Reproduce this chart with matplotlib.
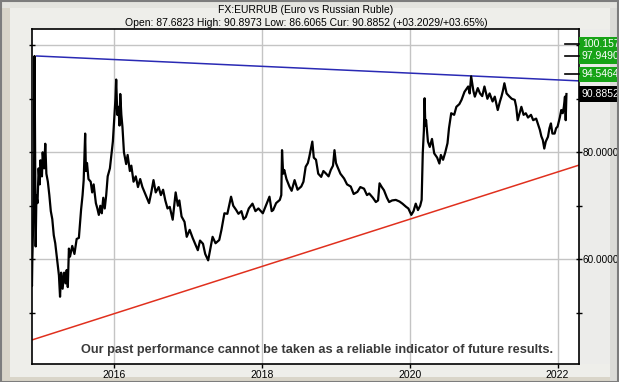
import numpy as np
import matplotlib
matplotlib.use('Agg')
import matplotlib.pyplot as plt
from matplotlib.patches import Rectangle

# EUR/RUB closes (decimal year, price)
dates = [2014.880, 2014.885, 2014.890, 2014.895, 2014.900, 2014.905, 2014.910, 2014.915, 2014.920, 2014.925,
         2014.930, 2014.935, 2014.945, 2014.960, 2014.975, 2014.990, 2015.000, 2015.020, 2015.030, 2015.050,
         2015.065, 2015.080, 2015.100, 2015.120, 2015.140, 2015.160, 2015.180, 2015.200, 2015.230, 2015.250,
         2015.265, 2015.280, 2015.300, 2015.320, 2015.340, 2015.355, 2015.370, 2015.385, 2015.400, 2015.430,
         2015.460, 2015.490, 2015.520, 2015.550, 2015.570, 2015.585, 2015.605, 2015.615, 2015.630, 2015.650,
         2015.680, 2015.700, 2015.720, 2015.750, 2015.770, 2015.790, 2015.810, 2015.830, 2015.850, 2015.870,
         2015.890, 2015.910, 2015.940, 2015.960, 2015.980, 2016.000, 2016.015, 2016.025, 2016.040, 2016.055,
         2016.070, 2016.080, 2016.095, 2016.110, 2016.130, 2016.160, 2016.180, 2016.210, 2016.230, 2016.260,
         2016.290, 2016.320, 2016.350, 2016.380, 2016.410, 2016.440, 2016.470, 2016.500, 2016.530, 2016.560,
         2016.600, 2016.630, 2016.660, 2016.690, 2016.720, 2016.750, 2016.790, 2016.830, 2016.860, 2016.880,
         2016.910, 2016.950, 2016.980, 2017.020, 2017.060, 2017.090, 2017.130, 2017.160, 2017.200, 2017.230,
         2017.270, 2017.300, 2017.330, 2017.370, 2017.420, 2017.450, 2017.490, 2017.530, 2017.580, 2017.610,
         2017.650, 2017.680, 2017.720, 2017.750, 2017.780, 2017.820, 2017.870, 2017.910, 2017.950, 2018.010,
         2018.050, 2018.100, 2018.130, 2018.150, 2018.190, 2018.240, 2018.260, 2018.270, 2018.285, 2018.300,
         2018.330, 2018.370, 2018.400, 2018.440, 2018.480, 2018.530, 2018.560, 2018.590, 2018.620, 2018.640,
         2018.680, 2018.700, 2018.730, 2018.760, 2018.800, 2018.830, 2018.860, 2018.900, 2018.930, 2018.960,
         2018.980, 2019.000, 2019.020, 2019.060, 2019.110, 2019.150, 2019.200, 2019.240, 2019.290, 2019.330,
         2019.380, 2019.420, 2019.450, 2019.500, 2019.540, 2019.570, 2019.590, 2019.620, 2019.650, 2019.690,
         2019.720, 2019.760, 2019.810, 2019.860, 2019.900, 2019.950, 2019.980, 2020.020, 2020.050, 2020.080,
         2020.110, 2020.140, 2020.160, 2020.175, 2020.190, 2020.200, 2020.210, 2020.220, 2020.245, 2020.270,
         2020.300, 2020.330, 2020.370, 2020.400, 2020.420, 2020.450, 2020.480, 2020.510, 2020.530, 2020.560,
         2020.600, 2020.630, 2020.670, 2020.700, 2020.740, 2020.790, 2020.810, 2020.830, 2020.860, 2020.880,
         2020.920, 2020.950, 2020.980, 2021.010, 2021.050, 2021.080, 2021.120, 2021.150, 2021.190, 2021.220,
         2021.240, 2021.260, 2021.280, 2021.310, 2021.350, 2021.380, 2021.420, 2021.440, 2021.460, 2021.490,
         2021.510, 2021.540, 2021.570, 2021.600, 2021.640, 2021.670, 2021.710, 2021.740, 2021.760, 2021.780,
         2021.800, 2021.820, 2021.840, 2021.870, 2021.890, 2021.910, 2021.930, 2021.960, 2021.980, 2022.000,
         2022.030, 2022.050, 2022.070, 2022.085, 2022.100, 2022.110, 2022.120]
prices = [57.0, 55.0, 60.0, 63.0, 66.0, 68.5, 72.0, 80.0, 98.0, 85.0,
          70.0, 62.4, 72.0, 70.5, 77.0, 74.0, 78.5, 75.5, 80.0, 77.0,
          81.6, 76.0, 74.5, 72.0, 69.0, 67.5, 64.5, 63.0, 59.5, 57.0,
          53.0, 57.5, 54.5, 57.5, 55.5, 58.0, 54.8, 62.0, 60.5, 62.5,
          61.0, 63.8, 64.0, 69.3, 72.0, 74.8, 83.5, 76.5, 78.0, 75.0,
          74.5, 72.5, 74.0, 70.5, 69.5, 68.3, 70.0, 68.6, 71.5, 69.5,
          72.0, 75.5, 77.0, 79.5, 82.0, 86.5, 90.0, 93.6, 87.0, 88.5,
          85.0, 90.9, 87.0, 84.7, 80.0, 77.8, 79.5, 76.5, 77.5, 74.5,
          75.5, 73.5, 75.0, 73.5, 72.5, 71.5, 70.5, 72.5, 74.8, 72.5,
          73.5, 72.0, 73.0, 71.0, 69.5, 69.8, 67.4, 72.5, 70.0, 71.0,
          68.0, 67.0, 64.2, 65.5, 64.0, 63.0, 61.7, 63.5, 62.9, 61.0,
          59.8, 62.0, 64.2, 63.0, 63.6, 65.5, 68.6, 68.5, 71.7, 70.0,
          69.2, 68.5, 69.0, 67.5, 67.9, 69.5, 70.4, 69.0, 69.5, 68.6,
          70.0, 71.7, 69.0, 69.2, 70.5, 71.1, 72.0, 80.4, 76.0, 76.7,
          75.0, 73.6, 72.8, 74.8, 73.0, 73.6, 74.5, 77.3, 78.0, 79.2,
          82.0, 79.0, 78.6, 76.0, 75.4, 76.5, 76.1, 75.5, 76.7, 77.5,
          80.4, 78.0, 77.3, 76.0, 75.1, 74.0, 73.6, 72.2, 72.6, 73.5,
          73.2, 72.0, 72.3, 71.5, 70.7, 71.0, 74.2, 73.5, 72.9, 71.5,
          70.7, 71.0, 71.1, 70.8, 70.4, 69.8, 69.5, 68.3, 69.0, 70.4,
          69.2, 70.0, 71.1, 79.8, 84.0, 90.1, 85.0, 86.0, 82.0, 81.0,
          82.5, 79.8, 79.0, 77.9, 79.5, 78.6, 80.0, 81.7, 84.5, 87.3,
          87.0, 88.5, 89.0, 89.8, 91.3, 92.3, 91.0, 94.2, 91.5, 90.4,
          92.0, 91.0, 90.5, 92.3, 90.0, 91.0, 89.5, 90.4, 87.9, 89.5,
          90.4, 91.5, 92.9, 91.0, 90.4, 90.0, 89.8, 88.5, 86.0, 87.5,
          88.5, 87.0, 87.3, 86.5, 87.0, 86.0, 86.3, 85.0, 84.2, 83.0,
          82.3, 80.7, 82.0, 82.9, 84.5, 85.4, 83.5, 83.5, 84.5, 84.8,
          86.5, 87.9, 87.3, 88.5, 90.4, 86.0, 90.89]

# trend lines (start, end)
resist_x = [2014.95, 2022.29]
resist_y = [98.0, 93.35]
support_x = [2014.88, 2022.29]
support_y = [44.9, 77.6]

# levels marked on the right axis
level_vals = [100.157, 97.949, 94.5464, 90.8852]
level_text = ['100.157', '97.9490', '94.5464', '90.8852']
level_colors = ['#17a317', '#17a317', '#17a317', '#000000']

year_ticks = [2016, 2018, 2020, 2022]
price_labels = [60, 80]

plt.rcParams['font.family'] = ['Liberation Sans', 'DejaVu Sans']

W, H = 619, 382
fig = plt.figure(figsize=(W / 100, H / 100), dpi=100)
fig.patch.set_facecolor('#eeeeea')

# frame decoration
fig.patches.append(Rectangle((0, 0), 10 / W, 1, transform=fig.transFigure, fc='#d9d5c9', ec='none', zorder=-5))
fig.patches.append(Rectangle((0, 0), 1, 5 / H, transform=fig.transFigure, fc='#d9d5c9', ec='none', zorder=-5))
fig.patches.append(Rectangle((610 / W, 0), 9 / W, 1, transform=fig.transFigure, fc='#dcdcd8', ec='none', zorder=-5))
fig.patches.append(Rectangle((0, 1 - 8 / H), 1, 8 / H, transform=fig.transFigure, fc='#e4e4df', ec='none', zorder=-5))
fig.patches.append(Rectangle((579 / W, 18 / H), 31 / W, 335 / H, transform=fig.transFigure, fc='#ececea', ec='none', zorder=-4))
fig.patches.append(Rectangle((0.5 / W, 0.5 / H), 1 - 1.5 / W, 1 - 1.5 / H, transform=fig.transFigure,
                             fill=False, ec='#7d7d7d', lw=1.5, zorder=10))

ax = fig.add_axes([31.6 / W, 1 - 364.3 / H, (579 - 31.6) / W, (364.3 - 29.3) / H])
ax.set_facecolor('white')
ax.set_xlim(2014.88, 2022.29)
ax.set_ylim(40.37, 102.99)

for yr in year_ticks:
    ax.axvline(yr, color='#c4c4c4', lw=1, zorder=1)
for v in [60, 80, 100]:
    ax.axhline(v, color='#c4c4c4', lw=1, zorder=1)

ax.plot(resist_x, resist_y, color='#2a2ab4', lw=1.1, zorder=2)
ax.plot(support_x, support_y, color='#e0301e', lw=1.1, zorder=2)
ax.plot(dates, prices, color='black', lw=1.6, zorder=3)

for sp in ax.spines.values():
    sp.set_linewidth(1.2)
    sp.set_color('black')

ax.yaxis.tick_right()
ax.set_yticks(np.arange(50, 101, 10))
ax.set_yticklabels(['' if v not in price_labels else f'{v:.4f}' for v in np.arange(50, 101, 10)])
ax.tick_params(axis='y', right=True, left=True, direction='inout', length=4, width=1,
               labelsize=7.2, pad=0.5)
ax.set_xticks(year_ticks)
ax.set_xticklabels([str(y) for y in year_ticks])
ax.tick_params(axis='x', direction='out', length=3, width=1, labelsize=7.5, pad=1)

# level markers and boxes on the right axis
for v, t, c in zip(level_vals, level_text, level_colors):
    if c != '#000000':
        ax.plot([0.975, 1.0], [v, v], transform=ax.get_yaxis_transform(), color='black', lw=1.2,
                clip_on=False, zorder=4)
    ax.annotate(t, xy=(1.0, v), xycoords=ax.get_yaxis_transform(), xytext=(3, 0),
                textcoords='offset pixels', ha='left', va='center', fontsize=7.5, color='white',
                bbox=dict(boxstyle='square,pad=0.25', fc=c, ec='none'), annotation_clip=False)

fig.text(306 / W, 1 - 10 / H, 'FX:EURRUB (Euro vs Russian Ruble)', ha='center', va='center', fontsize=7.5)
fig.text(306 / W, 1 - 23 / H, 'Open: 87.6823 High: 90.8973 Low: 86.6065 Cur: 90.8852 (+03.2029/+03.65%)',
         ha='center', va='center', fontsize=7.5)

ax.text(0.521, 0.043, 'Our past performance cannot be taken as a reliable indicator of future results.',
        transform=ax.transAxes, ha='center', va='center', fontsize=9.2, fontweight='bold',
        color='#3a3a3a', zorder=5)

fig.savefig('out.png', dpi=100, facecolor=fig.get_facecolor())
